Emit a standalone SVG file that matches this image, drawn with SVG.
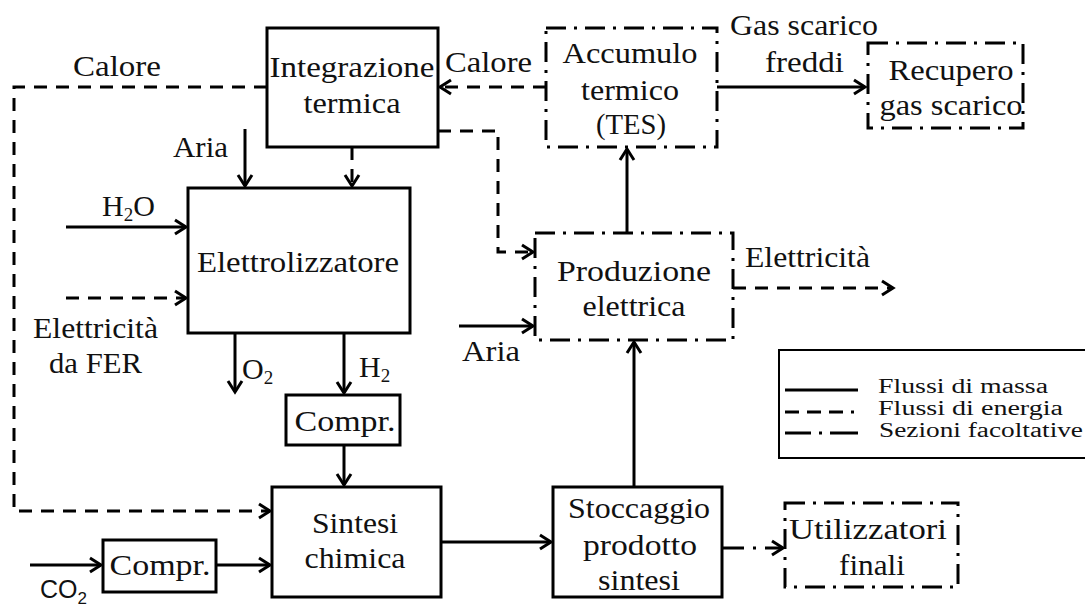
<svg xmlns="http://www.w3.org/2000/svg" width="1085" height="607" viewBox="0 0 1085 607">
<style>
.box{fill:none;stroke:#000;stroke-width:3}
.opt{fill:none;stroke:#000;stroke-width:3;stroke-dasharray:20 8 3 8}
.m{fill:none;stroke:#000;stroke-width:3;marker-end:url(#ah)}
.e{fill:none;stroke:#000;stroke-width:3;stroke-dasharray:13 9;marker-end:url(#ah)}
.o{fill:none;stroke:#000;stroke-width:3;stroke-dasharray:22 9 3 9;marker-end:url(#ah)}
text{font-family:"Liberation Serif","Times New Roman",serif;font-size:30px;fill:#111}
.c{text-anchor:middle}
.lg{font-size:20px}
</style>
<defs>
<marker id="ah" markerUnits="userSpaceOnUse" markerWidth="16" markerHeight="18" viewBox="0 0 16 18" refX="13" refY="9" orient="auto">
<path d="M2,2 L13,9 L2,16" fill="none" stroke="#000" stroke-width="3" stroke-dasharray="none"/>
</marker>
</defs>
<rect width="1085" height="607" fill="#fff"/>

<g id="connectors">
<path class="e" d="M267,87 H14 V511 H270"/>
<path class="e" d="M546,87 H440"/>
<path class="m" d="M717,87 H865"/>
<path class="e" d="M438,131 H498 V252 H533"/>
<path class="e" d="M352,147 V186"/>
<path class="m" d="M245,129 V186"/>
<path class="m" d="M66,227 H186"/>
<path class="e" d="M66,298 H186"/>
<path class="m" d="M235,333 V392"/>
<path class="m" d="M344,333 V393"/>
<path class="m" d="M344,445 V485"/>
<path class="m" d="M30,565 H101"/>
<path class="m" d="M216,565 H270"/>
<path class="m" d="M441,542 H551"/>
<path class="m" d="M634,487 V342"/>
<path class="m" d="M627,233 V149"/>
<path class="m" d="M459,326 H533"/>
<path class="e" d="M733,288 H893"/>
<path class="o" d="M722,548 H783"/>
</g>

<g id="integrazione">
<rect class="box" x="267" y="28" width="171" height="119"/>
<text class="c" x="352" y="77" textLength="165" lengthAdjust="spacingAndGlyphs">Integrazione</text>
<text class="c" x="352" y="113" textLength="97" lengthAdjust="spacingAndGlyphs">termica</text>
</g>

<g id="tes">
<rect class="opt" x="546" y="28" width="171" height="119"/>
<text class="c" x="630" y="63" textLength="135" lengthAdjust="spacingAndGlyphs">Accumulo</text>
<text class="c" x="630" y="100" textLength="98" lengthAdjust="spacingAndGlyphs">termico</text>
<text class="c" x="631" y="134" textLength="70" lengthAdjust="spacingAndGlyphs">(TES)</text>
</g>

<g id="recupero">
<rect class="opt" x="868" y="43" width="155" height="85"/>
<text class="c" x="951" y="80" textLength="125" lengthAdjust="spacingAndGlyphs">Recupero</text>
<text class="c" x="951" y="115" textLength="143" lengthAdjust="spacingAndGlyphs">gas scarico</text>
</g>

<g id="elettrolizzatore">
<rect class="box" x="188" y="188" width="222" height="145"/>
<text class="c" x="298" y="272" textLength="202" lengthAdjust="spacingAndGlyphs">Elettrolizzatore</text>
</g>

<g id="compr-h2">
<rect class="box" x="286" y="395" width="114" height="50"/>
<text class="c" x="345" y="431" textLength="101" lengthAdjust="spacingAndGlyphs">Compr.</text>
</g>

<g id="sintesi">
<rect class="box" x="272" y="487" width="169" height="110"/>
<text class="c" x="355" y="533" textLength="86" lengthAdjust="spacingAndGlyphs">Sintesi</text>
<text class="c" x="355" y="568" textLength="101" lengthAdjust="spacingAndGlyphs">chimica</text>
</g>

<g id="compr-co2">
<rect class="box" x="103" y="540" width="113" height="52"/>
<text class="c" x="160" y="575" textLength="101" lengthAdjust="spacingAndGlyphs">Compr.</text>
</g>

<g id="produzione">
<rect class="opt" x="535" y="233" width="198" height="107"/>
<text class="c" x="634" y="281" textLength="154" lengthAdjust="spacingAndGlyphs">Produzione</text>
<text class="c" x="634" y="316" textLength="103" lengthAdjust="spacingAndGlyphs">elettrica</text>
</g>

<g id="stoccaggio">
<rect class="box" x="553" y="487" width="169" height="110"/>
<text class="c" x="639" y="518" textLength="142" lengthAdjust="spacingAndGlyphs">Stoccaggio</text>
<text class="c" x="640" y="555" textLength="114" lengthAdjust="spacingAndGlyphs">prodotto</text>
<text class="c" x="639" y="590" textLength="82" lengthAdjust="spacingAndGlyphs">sintesi</text>
</g>

<g id="utilizzatori">
<rect class="opt" x="785" y="503" width="173" height="84"/>
<text class="c" x="868" y="539" textLength="158" lengthAdjust="spacingAndGlyphs">Utilizzatori</text>
<text class="c" x="872" y="575" textLength="66" lengthAdjust="spacingAndGlyphs">finali</text>
</g>

<g id="labels">
<text x="73" y="76" textLength="88" lengthAdjust="spacingAndGlyphs">Calore</text>
<text x="445" y="72" textLength="87" lengthAdjust="spacingAndGlyphs">Calore</text>
<text x="730" y="35" textLength="148" lengthAdjust="spacingAndGlyphs">Gas scarico</text>
<text x="765" y="72" textLength="79" lengthAdjust="spacingAndGlyphs">freddi</text>
<text x="173" y="157" textLength="55" lengthAdjust="spacingAndGlyphs">Aria</text>
<text x="102" y="216">H<tspan font-size="19" dy="5">2</tspan><tspan dy="-5">O</tspan></text>
<text x="33" y="338" textLength="125" lengthAdjust="spacingAndGlyphs">Elettricità</text>
<text x="49" y="373" textLength="93" lengthAdjust="spacingAndGlyphs">da FER</text>
<text x="242" y="379">O<tspan font-size="19" dy="5">2</tspan></text>
<text x="359" y="377">H<tspan font-size="19" dy="5">2</tspan></text>
<text x="462" y="361" textLength="58" lengthAdjust="spacingAndGlyphs">Aria</text>
<text x="745" y="267" textLength="125" lengthAdjust="spacingAndGlyphs">Elettricità</text>
<text x="40" y="598" style="font-family:'Liberation Sans',Arial,sans-serif;font-size:25px">CO<tspan font-size="17" dy="6">2</tspan></text>
</g>

<g id="legend">
<rect x="779" y="350" width="320" height="108" fill="none" stroke="#000" stroke-width="2"/>
<line x1="785" y1="390" x2="858" y2="390" stroke="#000" stroke-width="3"/>
<line x1="785" y1="412" x2="858" y2="412" stroke="#000" stroke-width="3" stroke-dasharray="14 8 14 8 14 8 3 8"/>
<line x1="785" y1="433" x2="858" y2="433" stroke="#000" stroke-width="3" stroke-dasharray="26 8 3 8 30"/>
<text class="lg" x="878" y="393" textLength="170" lengthAdjust="spacingAndGlyphs">Flussi di massa</text>
<text class="lg" x="878" y="415" textLength="185" lengthAdjust="spacingAndGlyphs">Flussi di energia</text>
<text class="lg" x="879" y="437" textLength="204" lengthAdjust="spacingAndGlyphs">Sezioni facoltative</text>
</g>
</svg>
